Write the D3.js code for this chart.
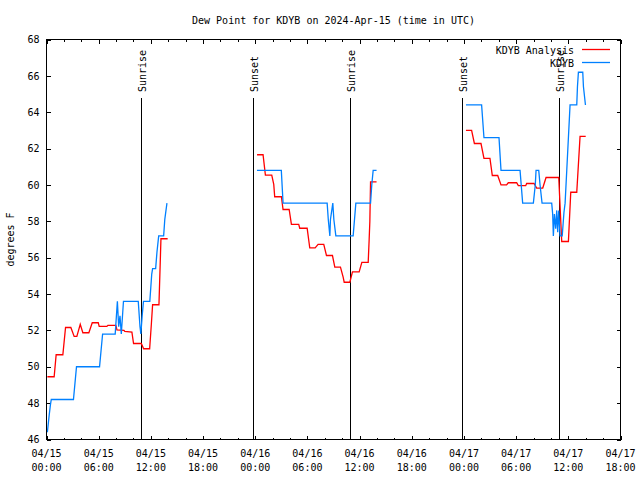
<!DOCTYPE html>
<html><head><meta charset="utf-8">
<script src="https://cdn.jsdelivr.net/npm/d3@7"></script>
<style>
body{margin:0;background:#fff;}
svg{display:block;font-family:"DejaVu Sans Mono",monospace;font-size:10px;}
</style></head><body>
<svg id="chart" width="640" height="480"></svg>
<script>
const titleText = "Dew Point for KDYB on 2024-Apr-15 (time in UTC)";
const yAxisLabel = "degrees F";
const seriesNames = ["KDYB Analysis", "KDYB"];
const seriesColors = ["#ff0000", "#0080ff"];
const xTickHours = [0, 6, 12, 18, 24, 30, 36, 42, 48, 54, 60, 66];
const xTickDates = ["04/15", "04/15", "04/15", "04/15", "04/16", "04/16", "04/16", "04/16", "04/17", "04/17", "04/17", "04/17"];
const xTickTimes = ["00:00", "06:00", "12:00", "18:00", "00:00", "06:00", "12:00", "18:00", "00:00", "06:00", "12:00", "18:00"];
const xMinorHours = d3.range(0, 67, 2);
const yTicks = [46, 48, 50, 52, 54, 56, 58, 60, 62, 64, 66, 68];
const eventHours = [10.82, 23.71, 34.88, 47.77, 58.94];
const eventLabels = ["Sunrise", "Sunset", "Sunrise", "Sunset", "Sunrise"];

// hours since 2024-04-15 00:00 UTC; null marks a gap
const analysisHours = [
  0.1, 0.88, 1.11, 1.88, 2.19, 2.8, 3.18, 3.49, 3.88, 4.18, 4.87, 5.26, 5.95, 6.06, 6.94, 7.06, 7.98, 8.1, 8.9, 9.0, 9.82, 10.01, 10.9, 11.17, 11.86, 12.05, 12.2, 12.93, 13.16, 13.93,
  null,
  24.21, 24.9, 25.17, 25.9, 26.13, 26.24, 27.01, 27.2, 27.9, 28.16, 29.0, 29.12, 29.97, 30.27, 30.89, 31.23, 31.88, 32.19, 32.88, 33.15, 33.8, 34.11, 34.23, 34.88, 35.18, 35.95, 36.26, 36.99, 37.1, 37.18, 37.26, 37.95,
  null,
  48.23, 48.88, 49.2, 49.96, 50.3, 50.99, 51.26, 51.88, 52.26, 52.9, 53.1, 54.06, 54.25, 55.1, 55.21, 56.06, 56.36, 57.06, 57.44, 58.9, 59.24, 60.01, 60.28, 60.97, 61.35, 62.0
];
const analysisTemps = [
  49.45, 49.45, 50.66, 50.66, 52.16, 52.16, 51.67, 51.67, 52.34, 51.87, 51.87, 52.42, 52.42, 52.22, 52.22, 52.28, 52.28, 52.03, 52.0, 51.95, 51.91, 51.28, 51.28, 50.99, 50.99, 52.3, 53.41, 53.41, 57.04, 57.04,
  null,
  61.66, 61.66, 60.54, 60.54, 60.03, 59.35, 59.35, 58.65, 58.65, 57.83, 57.83, 57.62, 57.62, 56.54, 56.54, 56.73, 56.73, 56.12, 56.12, 55.48, 55.48, 54.93, 54.65, 54.65, 55.22, 55.22, 55.74, 55.74, 57.0, 58.0, 60.17, 60.17,
  null,
  63.0, 63.0, 62.28, 62.28, 61.46, 61.46, 60.52, 60.52, 60.0, 60.0, 60.12, 60.12, 59.96, 59.96, 60.08, 60.08, 59.83, 59.83, 60.41, 60.41, 56.89, 56.89, 59.6, 59.6, 62.67, 62.67
];
const obsHours = [
  0.1, 0.3, 0.45, 0.55, 3.1, 3.45, 6.1, 6.45, 7.9, 8.15, 8.3, 8.45, 8.6, 8.85, 10.55, 10.75, 10.85, 11.0, 11.15, 11.88, 12.1, 12.2, 12.55, 12.7, 12.9, 13.47, 13.6, 13.85,
  null,
  24.2, 27.0, 27.2, 32.27, 32.4, 32.58, 32.65, 32.92, 33.04, 33.27, 35.26, 35.57, 37.26, 37.4, 37.56, 37.95,
  null,
  48.23, 50.03, 50.3, 52.03, 52.26, 54.45, 54.75, 55.98, 56.2, 56.29, 56.6, 56.75, 56.98, 58.09, 58.2, 58.28, 58.4, 58.55, 58.67, 58.78, 58.9, 59.05, 59.3, 59.5, 59.63, 59.82, 60.01, 60.2, 60.97, 61.05, 61.16, 61.66, 61.74, 61.97
];
const obsTemps = [
  46.4, 47.3, 47.9, 48.2, 48.2, 50.0, 50.0, 51.8, 51.8, 53.6, 52.2, 52.8, 51.8, 53.6, 53.6, 52.2, 51.8, 52.8, 53.6, 53.6, 55.1, 55.4, 55.4, 56.3, 57.2, 57.2, 58.1, 59.0,
  null,
  60.8, 60.8, 59.0, 59.0, 58.1, 57.2, 58.1, 59.0, 58.1, 57.2, 57.2, 59.0, 59.0, 60.0, 60.8, 60.8,
  null,
  64.4, 64.4, 62.6, 62.6, 60.8, 60.8, 59.0, 59.0, 60.0, 60.8, 60.8, 60.0, 59.0, 59.0, 58.4, 57.2, 58.4, 57.6, 58.6, 57.4, 58.6, 57.2, 57.2, 58.5, 59.0, 60.8, 62.6, 64.4, 64.4, 65.4, 66.2, 66.2, 65.4, 64.4
];

const svg = d3.select("#chart");
const L = 46.5, R = 620.5, T = 39.5, B = 439.5;
const x = d3.scaleLinear().domain([0, 66]).range([L, R]);
const y = d3.scaleLinear().domain([46, 68]).range([B, T]);

svg.append("rect").attr("width", 640).attr("height", 480).attr("fill", "#fff");

function clean(g) {
  g.select(".domain").remove();
  g.attr("font-family", null).attr("font-size", null);
  g.selectAll("line").attr("stroke", "#000").attr("shape-rendering", "crispEdges");
}

// axes ticks (inward, mirrored)
svg.append("g").attr("transform", `translate(${L},0)`)
  .call(d3.axisLeft(y).tickValues(yTicks).tickSize(-4).tickPadding(7))
  .call(clean)
  .call(g => g.selectAll("text").attr("fill", "#000"));
svg.append("g").attr("transform", `translate(${R},0)`)
  .call(d3.axisRight(y).tickValues(yTicks).tickSize(-4).tickFormat(""))
  .call(clean);
svg.append("g").attr("transform", `translate(0,${B})`)
  .call(d3.axisBottom(x).tickValues(xMinorHours).tickSize(-2).tickFormat(""))
  .call(clean);
svg.append("g").attr("transform", `translate(0,${B})`)
  .call(d3.axisBottom(x).tickValues(xTickHours).tickSize(-4).tickFormat(""))
  .call(clean);
svg.append("g").attr("transform", `translate(0,${T})`)
  .call(d3.axisTop(x).tickValues(xMinorHours).tickSize(-2).tickFormat(""))
  .call(clean);
svg.append("g").attr("transform", `translate(0,${T})`)
  .call(d3.axisTop(x).tickValues(xTickHours).tickSize(-4).tickFormat(""))
  .call(clean);

// x tick labels (two lines)
const xl = svg.append("g").attr("text-anchor", "middle").attr("fill", "#000");
xTickHours.forEach((h, i) => {
  const t = xl.append("text").attr("x", x(h));
  t.append("tspan").attr("x", x(h)).attr("y", 457).text(xTickDates[i]);
  t.append("tspan").attr("x", x(h)).attr("y", 471).text(xTickTimes[i]);
});

// event lines
const ev = svg.append("g");
eventHours.forEach((h, i) => {
  const px = Math.round(x(h)) + 0.5;
  ev.append("line").attr("x1", px).attr("x2", px).attr("y1", 98).attr("y2", B)
    .attr("stroke", "#000").attr("stroke-width", 1).attr("shape-rendering", "crispEdges");
  ev.append("text").attr("transform", `translate(${px + 4},92) rotate(-90)`)
    .attr("text-anchor", "start").attr("fill", "#000").text(eventLabels[i]);
});

// series
const line = d3.line().defined(d => d[1] !== null).x(d => x(d[0])).y(d => y(d[1]));
const series = [d3.zip(analysisHours, analysisTemps), d3.zip(obsHours, obsTemps)];
series.forEach((data, i) => {
  svg.append("path").datum(data).attr("d", line)
    .attr("fill", "none").attr("stroke", seriesColors[i]).attr("stroke-width", 1.3)
    .attr("stroke-linejoin", "miter");
});

// frame
svg.append("rect").attr("x", L).attr("y", T).attr("width", R - L).attr("height", B - T)
  .attr("fill", "none").attr("stroke", "#000").attr("shape-rendering", "crispEdges");

// legend
const leg = svg.append("g");
seriesNames.forEach((n, i) => {
  const ly = 49.5 + i * 13;
  leg.append("text").attr("x", 574).attr("y", ly + 4).attr("text-anchor", "end").attr("fill", "#000").text(n);
  leg.append("line").attr("x1", 582).attr("x2", 610).attr("y1", ly).attr("y2", ly)
    .attr("stroke", seriesColors[i]).attr("stroke-width", 1.3);
});

// title and y label
svg.append("text").attr("x", (L + R) / 2).attr("y", 24).attr("text-anchor", "middle").attr("fill", "#000").text(titleText);
svg.append("text").attr("transform", `translate(14,${(T + B) / 2}) rotate(-90)`)
  .attr("text-anchor", "middle").attr("fill", "#000").text(yAxisLabel);
</script>
</body></html>
